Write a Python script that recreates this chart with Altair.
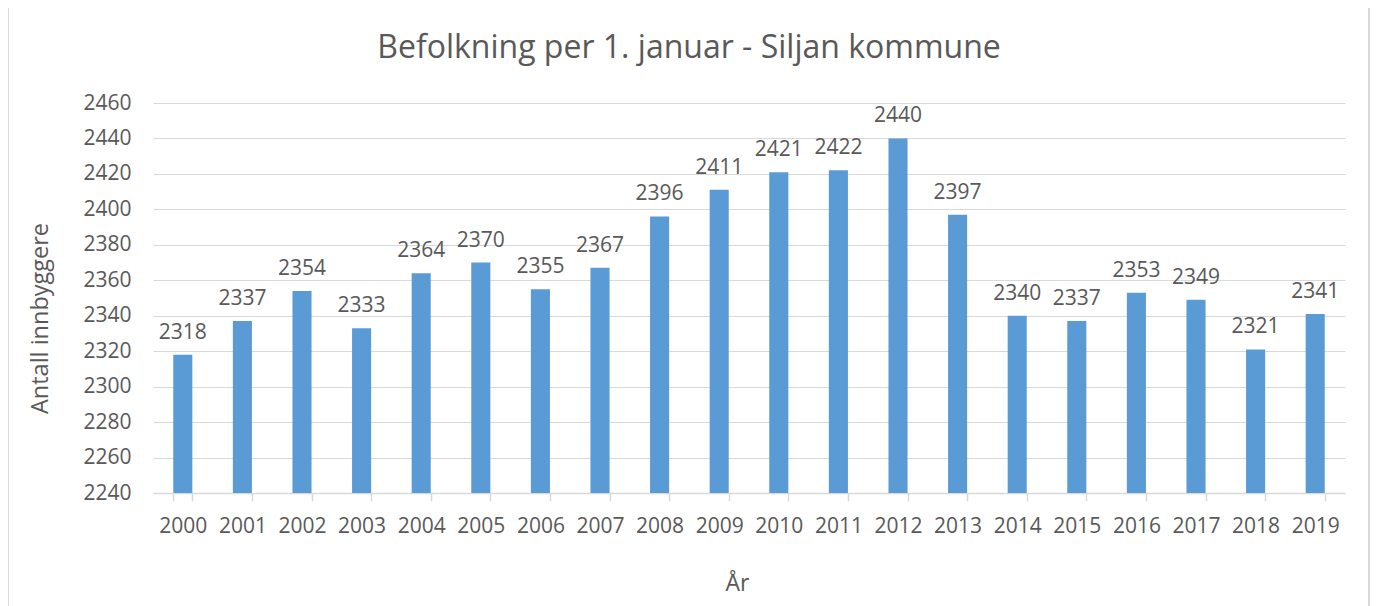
import altair as alt
import pandas as pd

years = [str(y) for y in range(2000, 2020)]
population = [2318, 2337, 2354, 2333, 2364, 2370, 2355, 2367, 2396, 2411,
              2421, 2422, 2440, 2397, 2340, 2337, 2353, 2349, 2321, 2341]
y_ticks = list(range(2240, 2461, 20))

df = pd.DataFrame({"År": years, "Antall": population})

FONT = "Open Sans"
GREY = "#595959"

x = alt.X("År:N", title="År", sort=years,
          scale=alt.Scale(paddingInner=0.68, paddingOuter=0.34),
          axis=alt.Axis(labelAngle=0, labelFontSize=21, labelColor=GREY, labelFont=FONT,
                        labelPadding=14, tickBand="extent", tickSize=8, tickColor="#d9d9d9",
                        tickWidth=1.5, domainColor="#d9d9d9", domainWidth=1.5,
                        titleFontSize=23, titleColor=GREY, titleFont=FONT,
                        titleFontWeight="normal", titlePadding=36, titleX=584))
y = alt.Y("Antall:Q", title="Antall innbyggere",
          scale=alt.Scale(domain=[2240, 2460], zero=False, nice=False),
          axis=alt.Axis(values=y_ticks, format="d", labelOverlap=False,
                        labelFontSize=21, labelColor=GREY,
                        labelFont=FONT, labelPadding=22, ticks=False, domain=False,
                        gridColor="#d9d9d9", gridWidth=1.2, titleFontSize=23.5, titleColor=GREY,
                        titleFont=FONT, titleFontWeight="normal", titlePadding=30,
                        titleY=215))

bars = alt.Chart(df).mark_bar(color="#5b9bd5", clip=True).encode(x=x, y=y)
labels = alt.Chart(df).mark_text(baseline="bottom", dy=-12, fontSize=21, color=GREY,
                                 font=FONT).encode(x=x, y=y, text="Antall:Q")
frame = alt.Chart(df).mark_rect(fill=None, stroke="#d9d9d9", strokeWidth=1.5, clip=False).encode(
    x=alt.value(-145), x2=alt.value(1216), y=alt.value(-98), y2=alt.value(620))

chart = alt.layer(frame, bars, labels).properties(
    width=1192, height=390,
    autosize=alt.AutoSizeParams(type="none"),
    padding={"left": 145, "top": 95, "right": 25, "bottom": 115},
    background="white",
    title=alt.TitleParams("Befolkning per 1. januar - Siljan kommune", fontSize=32,
                          font=FONT, color=GREY, fontWeight="normal", anchor="middle",
                          frame="group", dx=-60, offset=-61),
).configure_view(stroke=None)

chart.save("out.html", embed_options={"renderer": "svg", "actions": False})
